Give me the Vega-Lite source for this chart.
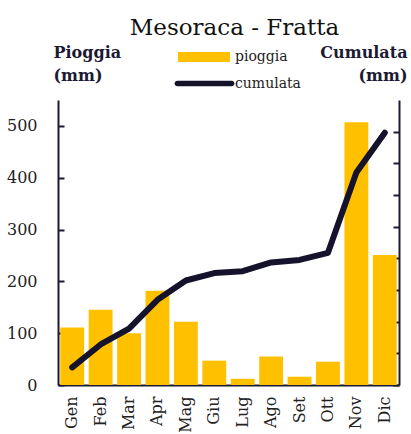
{
  "$schema": "https://vega.github.io/schema/vega-lite/v6.json",
  "width": 341,
  "height": 285,
  "autosize": {"type": "none"},
  "padding": {"left": 58, "top": 100, "right": 12, "bottom": 49},
  "background": "white",
  "title": {
    "text": "Mesoraca - Fratta",
    "font": "DejaVu Serif",
    "fontSize": 23,
    "fontWeight": "normal",
    "color": "#111111",
    "anchor": "middle",
    "baseline": "alphabetic",
    "dx": 6,
    "offset": -27
  },
  "data": {
    "values": [
      {"mese": "Gen", "pioggia": 111, "cumulata": 111},
      {"mese": "Feb", "pioggia": 145, "cumulata": 256},
      {"mese": "Mar", "pioggia": 100, "cumulata": 356},
      {"mese": "Apr", "pioggia": 182, "cumulata": 538},
      {"mese": "Mag", "pioggia": 122, "cumulata": 660},
      {"mese": "Giu", "pioggia": 47, "cumulata": 707},
      {"mese": "Lug", "pioggia": 12, "cumulata": 719},
      {"mese": "Ago", "pioggia": 55, "cumulata": 774},
      {"mese": "Set", "pioggia": 16, "cumulata": 790},
      {"mese": "Ott", "pioggia": 45, "cumulata": 835},
      {"mese": "Nov", "pioggia": 507, "cumulata": 1342},
      {"mese": "Dic", "pioggia": 251, "cumulata": 1593}
    ]
  },
  "config": {
    "view": {"stroke": null},
    "axis": {
      "grid": false,
      "domainColor": "#1c1a33",
      "domainWidth": 2,
      "tickColor": "#1c1a33",
      "tickWidth": 2,
      "labelFont": "DejaVu Serif",
      "labelFontSize": 16,
      "labelColor": "#222222",
      "titleFont": "DejaVu Serif",
      "titleFontSize": 16,
      "titleFontWeight": "bold",
      "titleColor": "#1c1a33"
    },
    "legend": {
      "labelFont": "DejaVu Serif",
      "labelFontSize": 14,
      "labelColor": "#222222"
    }
  },
  "encoding": {
    "x": {
      "field": "mese",
      "type": "nominal",
      "sort": null,
      "scale": {"paddingInner": 0.16, "paddingOuter": 0.08},
      "axis": {
        "title": null,
        "labelAngle": -90,
        "ticks": false,
        "labelPadding": 11
      }
    }
  },
  "layer": [
    {
      "mark": {"type": "bar"},
      "encoding": {
        "y": {
          "field": "pioggia",
          "type": "quantitative",
          "scale": {"domain": [0, 550], "nice": false},
          "axis": {
            "orient": "left",
            "values": [0, 100, 200, 300, 400, 500],
            "tickSize": -6,
            "labelPadding": 27,
            "title": ["Pioggia", "(mm)"],
            "titleAngle": 0,
            "titleAlign": "left",
            "titleBaseline": "alphabetic",
            "titleX": -5,
            "titleY": -43,
            "titleLineHeight": 23
          }
        },
        "color": {
          "datum": "pioggia",
          "scale": {"range": ["#FFC000"]},
          "legend": {
            "title": null,
            "orient": "none",
            "legendX": 120,
            "legendY": -69,
            "padding": 0,
            "symbolType": "M-1,-0.19H1V0.19H-1Z",
            "symbolSize": 2704,
            "symbolStrokeWidth": 0,
            "labelOffset": 5
          }
        }
      }
    },
    {
      "mark": {"type": "line", "strokeWidth": 6, "strokeCap": "round", "strokeJoin": "round"},
      "encoding": {
        "y": {
          "field": "cumulata",
          "type": "quantitative",
          "scale": {"domain": [0, 1800], "nice": false},
          "axis": {
            "orient": "right",
            "values": [0, 200, 400, 600, 800, 1000, 1200, 1400, 1600],
            "labels": false,
            "tickSize": -6,
            "title": ["Cumulata", "(mm)"],
            "titleAngle": 0,
            "titleAlign": "right",
            "titleBaseline": "alphabetic",
            "titleX": 8,
            "titleY": -43,
            "titleLineHeight": 23
          }
        },
        "stroke": {
          "datum": "cumulata",
          "scale": {"range": ["#15122c"]},
          "legend": {
            "title": null,
            "orient": "none",
            "legendX": 118,
            "legendY": -45,
            "padding": 0,
            "symbolType": "M-0.95,-0.1H0.95A0.1,0.1 0 0 1 0.95,0.1H-0.95A0.1,0.1 0 0 1 -0.95,-0.1Z",
            "symbolSize": 3249,
            "symbolFillColor": "#15122c",
            "symbolStrokeWidth": 0,
            "labelOffset": 2
          }
        }
      }
    }
  ],
  "resolve": {"scale": {"y": "independent"}, "axis": {"y": "independent"}}
}
